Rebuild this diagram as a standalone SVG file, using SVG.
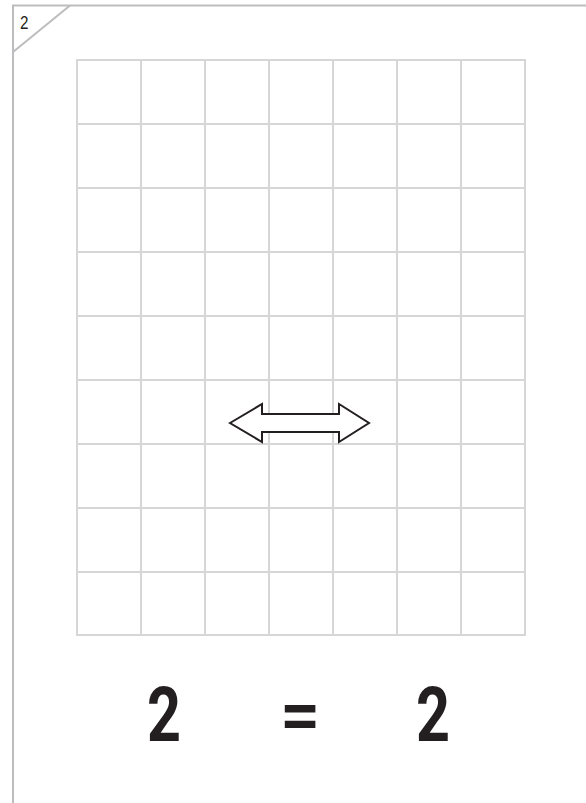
<svg xmlns="http://www.w3.org/2000/svg" width="586" height="803" viewBox="0 0 586 803">
<style>
.frame{stroke:#bdbdbf;stroke-width:2;fill:none}
.grid{stroke:#d6d6d6;stroke-width:2;fill:none}
.big{font-family:Roboto,"DejaVu Sans",sans-serif;font-weight:700;font-size:76px;fill:#231f20;text-anchor:middle}
</style>
<rect width="586" height="803" fill="#ffffff"/>
<g id="page">
<path class="frame" d="M13 803 V5.5 H586"/>
<path class="frame" d="M13 52 L70 5.5"/>
<text transform="translate(20 29) scale(0.8 1)" font-family="'Liberation Sans',Arial,sans-serif" font-size="19" fill="#231f20">2</text>
</g>
<g id="grid">
<rect class="grid" x="77" y="60" width="448" height="575"/>
<path class="grid" d="M141 60V635M205 60V635M269 60V635M333 60V635M397 60V635M461 60V635M77 124H525M77 188H525M77 252H525M77 316H525M77 380H525M77 444H525M77 508H525M77 572H525"/>
</g>
<g id="arrow">
<path d="M230 423 L262 404 V414 H339 V404 L369 423 L339 442 V432 H262 V442 Z" fill="#ffffff" stroke="#231f20" stroke-width="2" stroke-linejoin="miter"/>
</g>
<g id="equation">
<text class="big" transform="translate(164 741) scale(0.78 1)">2</text>
<text class="big" style="font-weight:500" transform="translate(300 741) scale(0.95 1)">=</text>
<text class="big" transform="translate(433 741) scale(0.78 1)">2</text>
</g>
</svg>
